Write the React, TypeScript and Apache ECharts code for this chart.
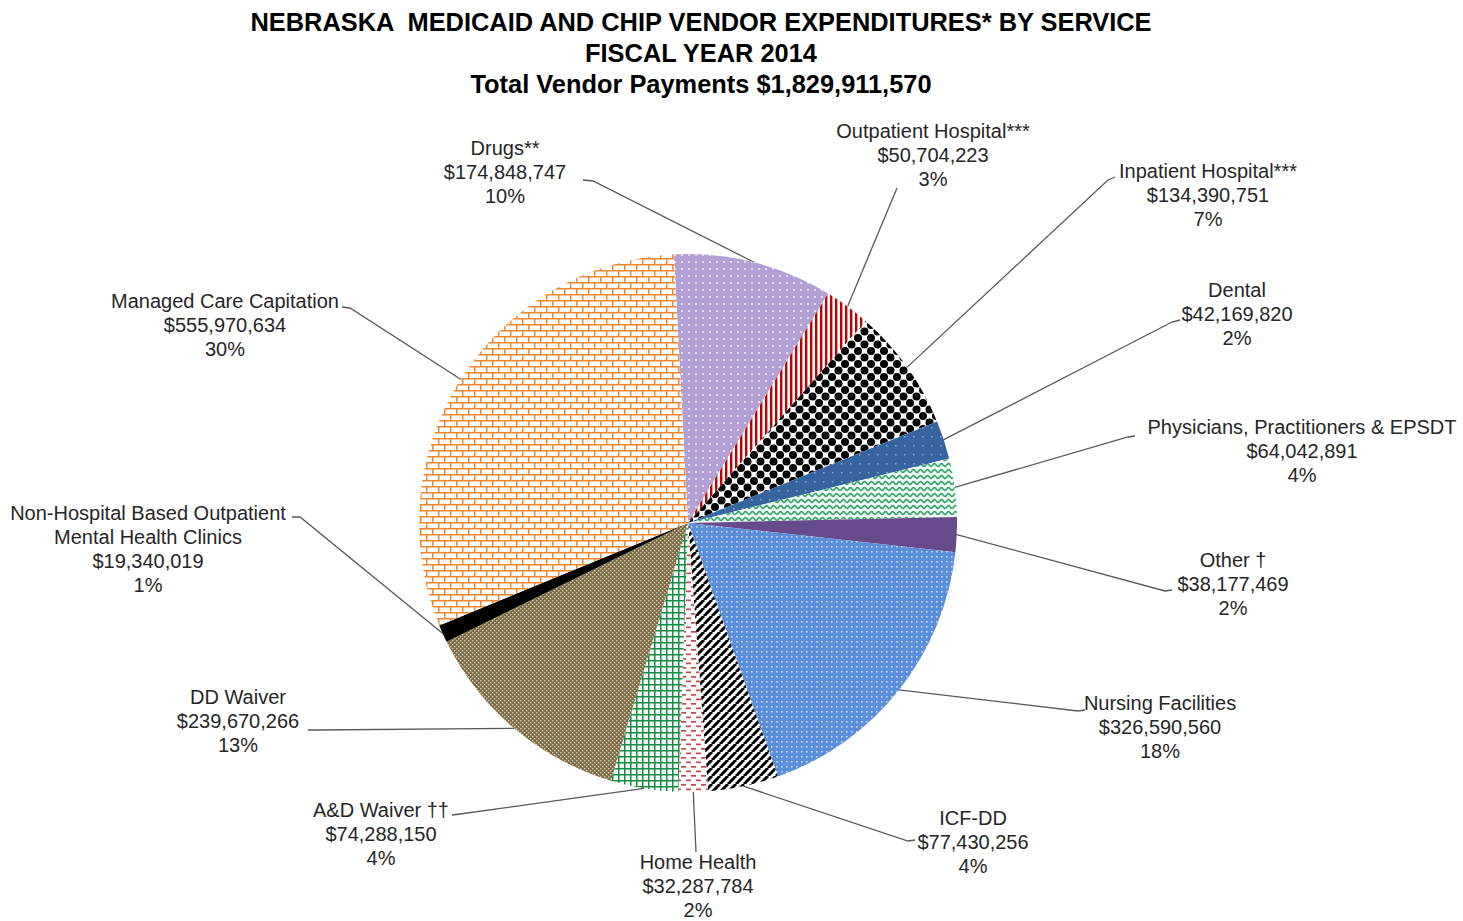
import React, { useEffect, useRef } from "react";
import * as echarts from "echarts";

const titleLines = [
  "NEBRASKA  MEDICAID AND CHIP VENDOR EXPENDITURES* BY SERVICE",
  "FISCAL YEAR 2014",
  "Total Vendor Payments $1,829,911,570",
];

const categories = [
  "Drugs**",
  "Outpatient Hospital***",
  "Inpatient Hospital***",
  "Dental",
  "Physicians, Practitioners & EPSDT",
  "Other †",
  "Nursing Facilities",
  "ICF-DD",
  "Home Health",
  "A&D Waiver ††",
  "DD Waiver",
  "Non-Hospital Based Outpatient\nMental Health Clinics",
  "Managed Care Capitation",
];

const expenditures = [
  174848747, 50704223, 134390751, 42169820, 64042891, 38177469, 326590560,
  77430256, 32287784, 74288150, 239670266, 19340019, 555970634,
];

// layout only: label block centres, line bend points, line end points (page px)
const labelCenters = [
  [505, 172], [933, 155], [1208, 195], [1237, 314], [1302, 451], [1233, 584],
  [1160, 727], [973, 842], [698, 886], [381, 834], [238, 721], [148, 549], [225, 325],
];
const lineBends = [
  [593, 181], [897, 188], [1108, 180], [1172, 322], [1128, 437], [1165, 591],
  [1078, 711], [908, 841], [696, 852], [460, 814], [316, 730], [300, 517], [350, 308],
];
const lineEnds = [
  [583, 180], [897, 188], [1115, 177], [1180, 320], [1135, 436], [1172, 590],
  [1085, 710], [915, 840], [696, 852], [452, 815], [308, 730], [292, 517], [342, 307],
];

const FONT = "'Liberation Sans', Arial, Helvetica, sans-serif";

type Draw = (ctx: CanvasRenderingContext2D, w: number, h: number) => void;

function tile(w: number, h: number, bg: string, draw: Draw) {
  const c = document.createElement("canvas");
  c.width = w;
  c.height = h;
  const ctx = c.getContext("2d") as CanvasRenderingContext2D;
  ctx.fillStyle = bg;
  ctx.fillRect(0, 0, w, h);
  draw(ctx, w, h);
  return { image: c.toDataURL(), repeat: "repeat", imageWidth: w, imageHeight: h };
}

function buildFills(): any[] {
  const drugs = tile(7, 7, "#B29FD4", (ctx) => {
    ctx.fillStyle = "#E4DAF3";
    ctx.fillRect(2, 2, 2, 2);
  });
  const outpatient = tile(5, 5, "#FFFFFF", (ctx) => {
    ctx.fillStyle = "#C00000";
    ctx.fillRect(0, 0, 2.4, 5);
  });
  const inpatient = tile(13, 13, "#FFFFFF", (ctx) => {
    ctx.fillStyle = "#000000";
    const pts = [[0, 0], [13, 0], [0, 13], [13, 13], [6.5, 6.5]];
    pts.forEach(([x, y]) => {
      ctx.beginPath();
      ctx.arc(x, y, 4, 0, Math.PI * 2);
      ctx.fill();
    });
  });
  const dental = tile(9, 9, "#35649F", (ctx) => {
    ctx.fillStyle = "#8DA8CF";
    ctx.fillRect(4, 4, 1.5, 1.5);
  });
  const physicians = tile(7, 6, "#F3FBF6", (ctx) => {
    ctx.strokeStyle = "#35A56A";
    ctx.lineWidth = 1.6;
    ctx.beginPath();
    for (let i = 0; i <= 28; i++) {
      const x = (i / 28) * 7;
      const y = 3 + 1.5 * Math.cos((2 * Math.PI * x) / 7);
      if (i === 0) ctx.moveTo(x, y);
      else ctx.lineTo(x, y);
    }
    ctx.stroke();
  });
  const other = "#674A8B";
  const nursing = tile(5, 5, "#5A8ED8", (ctx) => {
    ctx.fillStyle = "#C8D9F3";
    ctx.fillRect(1, 1, 1.6, 1.6);
  });
  const icfdd = tile(8, 8, "#FFFFFF", (ctx) => {
    ctx.strokeStyle = "#000000";
    ctx.lineWidth = 3;
    [-8, 0, 8].forEach((x0) => {
      ctx.beginPath();
      ctx.moveTo(x0, 8);
      ctx.lineTo(x0 + 8, 0);
      ctx.stroke();
    });
  });
  const homeHealth = tile(10, 9, "#FFFFFF", (ctx) => {
    ctx.fillStyle = "#C84848";
    ctx.fillRect(1, 1, 5, 1.7);
    ctx.fillRect(6, 5.5, 5, 1.7);
    ctx.fillRect(-4, 5.5, 5, 1.7);
  });
  const adWaiver = tile(6, 6, "#F4FBF6", (ctx) => {
    ctx.strokeStyle = "#178A48";
    ctx.lineWidth = 1.5;
    ctx.beginPath();
    ctx.moveTo(0.75, 0);
    ctx.lineTo(0.75, 6);
    ctx.moveTo(0, 0.75);
    ctx.lineTo(6, 0.75);
    ctx.stroke();
  });
  const ddWaiver = tile(4, 4, "#7B6A44", (ctx) => {
    ctx.fillStyle = "#D8D0BA";
    ctx.fillRect(0, 0, 1.4, 1.4);
    ctx.fillRect(2, 2, 1.4, 1.4);
  });
  const nonHosp = "#000000";
  const managed = tile(12, 12, "#FFFFFF", (ctx) => {
    ctx.strokeStyle = "#EF8730";
    ctx.lineWidth = 1.5;
    ctx.beginPath();
    ctx.moveTo(0, 0.75);
    ctx.lineTo(12, 0.75);
    ctx.moveTo(0, 6.75);
    ctx.lineTo(12, 6.75);
    ctx.moveTo(0.75, 0);
    ctx.lineTo(0.75, 6);
    ctx.moveTo(6.75, 6);
    ctx.lineTo(6.75, 12);
    ctx.stroke();
  });
  return [
    drugs, outpatient, inpatient, dental, physicians, other, nursing,
    icfdd, homeHealth, adWaiver, ddWaiver, nonHosp, managed,
  ];
}

export default function App() {
  const ref = useRef<HTMLDivElement>(null);

  useEffect(() => {
    if (!ref.current) return;
    const chart = echarts.init(ref.current, undefined, { renderer: "svg" });
    const fills = buildFills();
    const data = categories.map((name, i) => ({
      name,
      value: expenditures[i],
      itemStyle: { color: fills[i] },
    }));

    chart.setOption({
      animation: false,
      backgroundColor: "#FFFFFF",
      title: {
        text: titleLines.join("\n"),
        left: 696,
        top: 1,
        textAlign: "center",
        textStyle: {
          fontFamily: FONT,
          fontSize: 25.4,
          fontWeight: "bold",
          lineHeight: 31,
          color: "#000000",
        },
      },
      series: [
        {
          type: "pie",
          center: [688, 523],
          radius: 269,
          startAngle: 93,
          clockwise: true,
          percentPrecision: 0,
          avoidLabelOverlap: false,
          minShowLabelAngle: 0,
          emphasis: { disabled: true },
          itemStyle: { borderWidth: 0 },
          label: {
            show: true,
            position: "outside",
            color: "#262626",
            fontFamily: FONT,
            fontSize: 20,
            lineHeight: 24,
            align: "center",
            formatter: (p: any) =>
              `${p.name}\n$${Number(p.value).toLocaleString("en-US")}\n${p.percent}%`,
          },
          labelLine: {
            show: true,
            length: 10,
            length2: 10,
            lineStyle: { color: "#595959", width: 1.3 },
          },
          labelLayout: (p: any) => {
            const i = p.dataIndex;
            const edge = p.labelLinePoints ? p.labelLinePoints[0] : lineBends[i];
            return {
              x: labelCenters[i][0],
              y: labelCenters[i][1],
              align: "center",
              verticalAlign: "middle",
              labelLinePoints: [edge, lineBends[i], lineEnds[i]],
            };
          },
          data,
        },
      ],
    });

    return () => chart.dispose();
  }, []);

  return (
    <div
      ref={ref}
      style={{ position: "absolute", left: 0, top: 0, width: 1463, height: 921 }}
    />
  );
}
